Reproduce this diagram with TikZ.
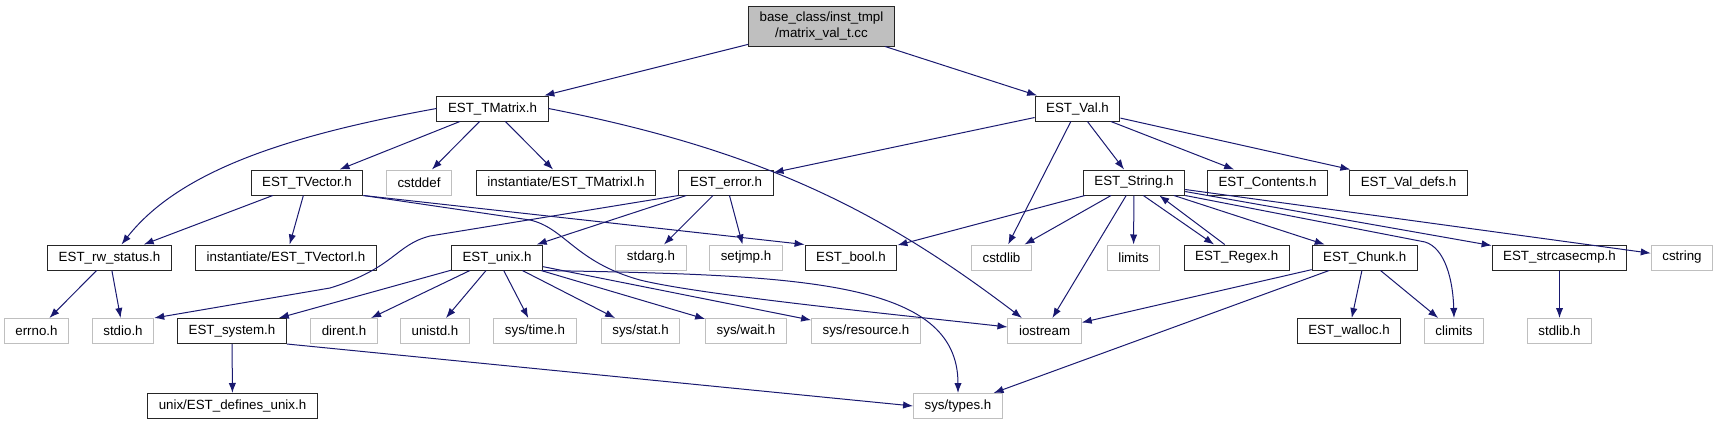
\documentclass[tikz,border=0pt]{standalone}
\usepackage{fontspec}
\setmainfont{Liberation Sans}
\usetikzlibrary{positioning,arrows.meta}
\definecolor{edgeblue}{HTML}{191970}
\definecolor{sysgray}{HTML}{BFBFBF}

\begin{document}
\begin{tikzpicture}[x=0.75pt,y=-0.75pt,font=\fontsize{10}{11.5}\selectfont,
  box/.style={rectangle,inner xsep=8.3pt,inner ysep=0pt,minimum height=18.75pt},
  hdr/.style={box,draw=black!85,line width=0.75pt},
  ext/.style={box,draw=sysgray,line width=0.75pt},
  dep/.style={draw=edgeblue,line width=0.75pt,-{Latex[length=7.5pt,width=5.5pt]}}]
\useasboundingbox (0,0) rectangle (1718,425);
\node (root) [box,draw=black!85,fill=sysgray,line width=0.75pt,minimum height=30pt,align=center] at (821.5,26) {base\_class/inst\_tmpl\\/matrix\_val\_t.cc};
\node (tmatrix) [hdr] at (492.5,108.5) {EST\_TMatrix.h};
\node (val) [hdr] at (1077.5,108.5) {EST\_Val.h};
\node (tvector) [hdr] at (307,182.5) {EST\_TVector.h};
\node (cstddef) [ext] at (419,182.5) {cstddef};
\node (tmatrixi) [hdr] at (566,182.5) {instantiate/EST\_TMatrixI.h};
\node (error) [hdr] at (726,182.5) {EST\_error.h};
\node (string) [hdr] at (1134,182.5) {EST\_String.h};
\node (contents) [hdr] at (1267.5,182.5) {EST\_Contents.h};
\node (valdefs) [hdr] at (1408.5,182.5) {EST\_Val\_defs.h};
\node (rwstatus) [hdr] at (109.5,257.5) {EST\_rw\_status.h};
\node (tvectori) [hdr] at (286,257.5) {instantiate/EST\_TVectorI.h};
\node (unix) [hdr] at (497,257.5) {EST\_unix.h};
\node (stdarg) [ext] at (651,257.5) {stdarg.h};
\node (setjmp) [ext] at (746,257.5) {setjmp.h};
\node (bool) [hdr] at (851,257.5) {EST\_bool.h};
\node (cstdlib) [ext] at (1001.5,257.5) {cstdlib};
\node (limits) [ext] at (1133.5,257.5) {limits};
\node (regex) [hdr] at (1236.7,257.5) {EST\_Regex.h};
\node (chunk) [hdr] at (1364.7,257.5) {EST\_Chunk.h};
\node (strcase) [hdr] at (1559.5,257.5) {EST\_strcasecmp.h};
\node (cstring) [ext] at (1682,257.5) {cstring};
\node (errno) [ext] at (36.5,331) {errno.h};
\node (stdio) [ext] at (123,331) {stdio.h};
\node (system) [hdr] at (232,331) {EST\_system.h};
\node (dirent) [ext] at (344,331) {dirent.h};
\node (unistd) [ext] at (435,331) {unistd.h};
\node (systime) [ext] at (535,331) {sys/time.h};
\node (sysstat) [ext] at (640.5,331) {sys/stat.h};
\node (syswait) [ext] at (746,331) {sys/wait.h};
\node (sysres) [ext] at (866,331) {sys/resource.h};
\node (iostream) [ext] at (1044.6,331) {iostream};
\node (walloc) [hdr] at (1349,331) {EST\_walloc.h};
\node (climits) [ext] at (1454,331) {climits};
\node (stdlib) [ext] at (1559.5,331) {stdlib.h};
\node (defunix) [hdr] at (232.5,406) {unix/EST\_defines\_unix.h};
\node (systypes) [ext] at (958,406) {sys/types.h};
\draw[dep] (root) -- (tmatrix);
\draw[dep] (root) -- (val);
\draw[dep] (tmatrix.west) .. controls (290,135) and (180,170) .. ([xshift=9pt]rwstatus.north);
\draw[dep] (tmatrix) -- (tvector);
\draw[dep] (tmatrix) -- (cstddef);
\draw[dep] (tmatrix) -- (tmatrixi);
\draw[dep] (tmatrix.east) .. controls (760,150) and (880,210) .. ([xshift=-17pt]iostream.north);
\draw[dep] (val) -- (error);
\draw[dep] (val) -- (cstdlib);
\draw[dep] (val) -- (string);
\draw[dep] (val) -- (contents);
\draw[dep] (val) -- (valdefs);
\draw[dep] (tvector) -- (rwstatus);
\draw[dep] (tvector) -- (tvectori);
\draw[dep] (tvector.south east) -- (bool.north west);
\draw[dep] (tvector.south east) -- (530,220) .. controls (565,228) and (575,262) .. (640,280) .. controls (700,295) and (900,315) .. ([yshift=3pt]iostream.west);
\draw[dep] (error.south west) -- (430,236) .. controls (395,245) and (395,268) .. (330,288) -- (stdio.north east);
\draw[dep] (error) -- (unix);
\draw[dep] (error) -- (stdarg);
\draw[dep] (error) -- (setjmp);
\draw[dep] (string) -- (bool);
\draw[dep] (string) -- (cstdlib);
\draw[dep] (string) -- (iostream);
\draw[dep] (string) -- (limits);
\draw[dep] ([xshift=7pt]string.south) -- ([xshift=-17pt]regex.north);
\draw[dep] ([xshift=-9pt]regex.north) -- ([xshift=19pt]string.south);
\draw[dep] (string) -- (chunk);
\draw[dep] (string.south east) -- (1425,242) .. controls (1445,248) and (1453,280) .. (climits.north);
\draw[dep] (string) -- (strcase);
\draw[dep] (string) -- (cstring);
\draw[dep] (chunk) -- (iostream);
\draw[dep] (chunk) -- (systypes);
\draw[dep] (chunk) -- (walloc);
\draw[dep] (chunk) -- (climits);
\draw[dep] (strcase) -- (stdlib);
\draw[dep] (rwstatus) -- (errno);
\draw[dep] (rwstatus) -- (stdio);
\draw[dep] (unix) -- (system);
\draw[dep] (unix) -- (dirent);
\draw[dep] (unix) -- (unistd);
\draw[dep] (unix) -- (systime);
\draw[dep] (unix) -- (sysstat);
\draw[dep] (unix) -- (syswait);
\draw[dep] (unix) -- (sysres);
\draw[dep] (unix.south east) .. controls (800,275) and (958,280) .. (systypes.north);
\draw[dep] (system) -- (defunix);
\draw[dep] (system.south east) -- (systypes.west);
\end{tikzpicture}
\end{document}
